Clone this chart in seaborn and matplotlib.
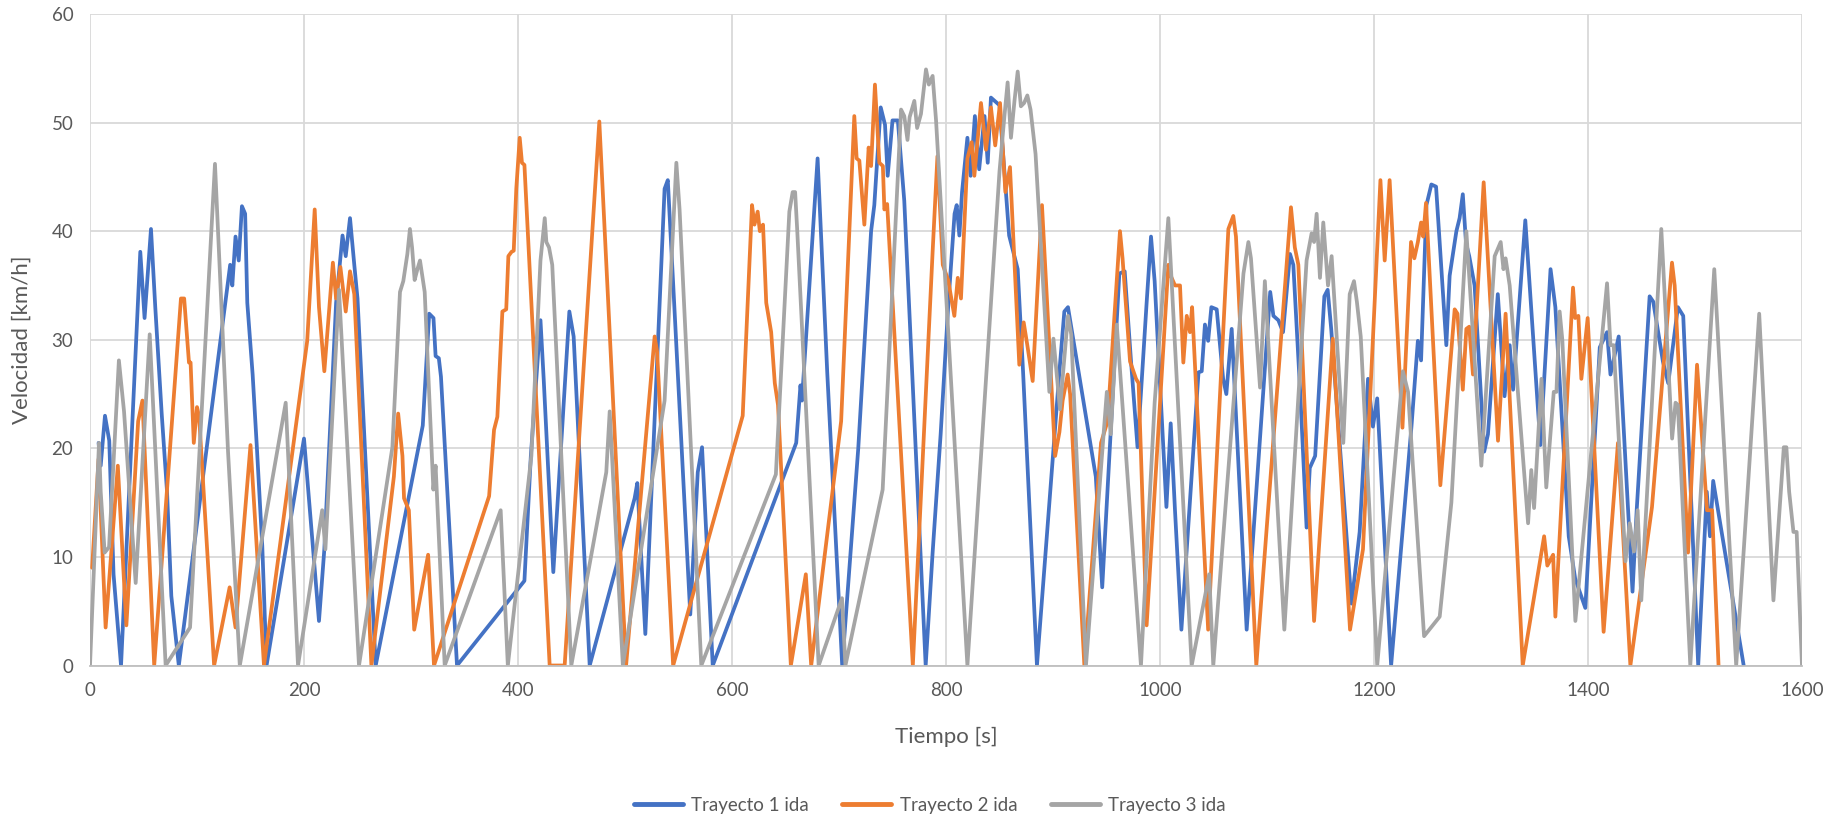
import matplotlib
matplotlib.use("Agg")
import matplotlib.pyplot as plt
from matplotlib.lines import Line2D
import numpy as np
import pandas as pd
import seaborn as sns

# ---------------- data ----------------
t1 = [8, 10, 14, 18, 22, 29, 47, 51, 57, 61, 67, 72, 76, 83, 131, 133, 136, 139, 142, 145, 147, 152, 156, 161, 165,
      200, 214, 219, 230, 236, 239, 243, 247, 250, 267, 311, 317, 321, 323, 326, 328, 343, 406, 412, 421, 424, 433,
      448, 452, 467, 509, 511.5, 519, 537, 540, 561, 568, 572, 582, 660, 664, 665.4, 680, 689, 703, 718, 730, 733,
      735, 739, 743, 745.5, 750, 755, 761, 781, 787.5, 795, 802, 808, 810, 812.5, 815, 820, 823, 827, 831, 836, 839,
      842, 850, 856, 859, 867, 872, 885, 906, 910.6, 914, 940, 946, 962, 967, 973, 979, 987.5, 991.6, 995, 1006,
      1010, 1014, 1020, 1036, 1039, 1042, 1045, 1048, 1053, 1059, 1062, 1067, 1081, 1103, 1106, 1110.6, 1115,
      1121.5, 1124.6, 1131, 1137, 1140, 1145, 1153.6, 1156.7, 1160, 1179, 1186.6, 1194.4, 1199, 1203, 1216, 1235,
      1241, 1244, 1249, 1253.6, 1258, 1267.6, 1270.7, 1277, 1280, 1283, 1286, 1289, 1294, 1303, 1306.5, 1315.7,
      1322, 1326.8, 1330, 1341.4, 1355.5, 1365, 1369.5, 1382, 1388, 1397.5, 1411, 1417.8, 1421, 1428.7, 1441.6,
      1445.5, 1457.6, 1461, 1470, 1475, 1484, 1489, 1503, 1511, 1514, 1517, 1545.5]
v1 = [20.5, 18.4, 23, 20.7, 8.4, 0, 38.1, 32, 40.2, 33, 23.2, 16, 6.4, 0, 36.9, 35, 39.5, 37.3, 42.3, 41.6, 33.4,
      26.8, 20, 11, 0, 20.9, 4.1, 10.7, 33.4, 39.6, 37.7, 41.2, 36.9, 33.8, 0, 22.1, 32.4, 32, 28.5, 28.3, 26.6, 0,
      7.8, 19.3, 31.8, 26.4, 8.6, 32.6, 30.3, 0, 15.4, 16.8, 2.9, 43.9, 44.7, 4.7, 17.8, 20.1, 0, 20.5, 25.8, 24.4,
      46.7, 27, 0, 20, 40, 42.4, 45.5, 51.4, 49.8, 45.1, 50.2, 50.2, 42.8, 0, 10.4, 21.3, 33, 41.6, 42.4, 39.6,
      43.6, 48.6, 45.1, 50.6, 45.7, 50.6, 46.3, 52.3, 51.6, 43.6, 39.6, 36.5, 27.1, 0, 27.1, 32.6, 33, 17.4, 7.2,
      36.1, 36.3, 27.9, 20.1, 33.4, 39.5, 35.4, 14.6, 22.3, 14.3, 3.3, 27, 27.1, 31.4, 29.9, 33, 32.8, 26.4, 25,
      31, 3.3, 34.4, 32.2, 31.8, 30.7, 37.9, 36.9, 25.2, 12.7, 18.2, 19.3, 34, 34.6, 31, 5.7, 12.3, 26.4, 22, 24.6,
      0, 22, 29.9, 28.1, 42.4, 44.3, 44.1, 29.5, 35.9, 40, 41.2, 43.4, 38.9, 37.7, 35, 19.7, 21.3, 34.2, 24.8, 29.5,
      25.4, 41, 20.3, 36.5, 33, 11.9, 8, 5.3, 29.3, 30.7, 26.8, 30.3, 6.8, 14.3, 34, 33.5, 28, 26, 33, 32.2, 0, 16,
      11.9, 17, 0]

t2 = [2, 8, 14.6, 26, 34, 45, 49, 60, 85, 88, 92.5, 94, 97, 100, 102, 116, 130.5, 136, 150, 162.6, 203, 210, 214,
      219, 227, 230, 234, 239, 243, 247, 263, 284, 288, 292, 293.5, 298, 303, 316, 321.5, 373, 377.6, 380.7, 385.4,
      389, 391, 394, 396, 398.4, 401.6, 403.7, 406, 429.6, 443.6, 476, 501, 527.7, 530, 545, 610, 618.7, 621, 624,
      626, 629, 632, 636.6, 640, 643, 655, 669, 674, 702, 714.3, 716.5, 719, 723.7, 727.7, 730, 733.6, 737.7, 741,
      742.4, 745, 769, 787.5, 792, 797, 802, 807.8, 811, 814, 820, 824, 826.5, 832.7, 837.4, 842, 846, 850.5,
      855.5, 859.8, 868.5, 872.6, 876, 881, 889.7, 902, 906, 909, 913.7, 916, 929.3, 944.9, 951, 962.6, 965, 972,
      977.6, 980, 987.5, 1007.8, 1010, 1014, 1018.7, 1021.8, 1025, 1028, 1030, 1045, 1063.9, 1068.5, 1071, 1090,
      1122.4, 1126, 1129.3, 1144, 1161.5, 1177.6, 1189.7, 1206, 1210, 1214.6, 1226.6, 1234.6, 1237.7, 1241, 1244,
      1246, 1248.6, 1262, 1275.4, 1278, 1283, 1286.3, 1289, 1292.5, 1302.5, 1315.9, 1323, 1339, 1359, 1362,
      1367.4, 1369.5, 1386, 1388, 1391, 1393.8, 1399.7, 1414.6, 1428, 1439.6, 1459.8, 1478.5, 1481, 1493.5,
      1501.9, 1511.2, 1516, 1522]
v2 = [9, 19, 3.5, 18.4, 3.7, 22.5, 24.4, 0, 33.8, 33.8, 27.9, 27.9, 20.5, 23.8, 22.9, 0, 7.2, 3.5, 20.3, 0, 29.9,
      42, 33, 27.1, 37.1, 33.8, 36.7, 32.6, 36.3, 34.2, 0, 17.4, 23.2, 19.3, 15.4, 14.3, 3.3, 10.2, 0, 15.6, 21.7,
      22.9, 32.6, 32.8, 37.7, 38.1, 38.2, 43.9, 48.6, 46.3, 46.1, 0, 0, 50.1, 0, 30.3, 28.9, 0, 23, 42.4, 40.6,
      41.8, 40, 40.6, 33.4, 30.7, 26, 24, 0, 8.4, 0, 22.5, 50.6, 46.7, 46.5, 40.6, 47.7, 46, 53.5, 46.3, 46, 42,
      42.5, 0, 38.1, 46.9, 36.9, 35.5, 32.2, 35.7, 33.8, 46.7, 48.2, 45.1, 51.8, 47.5, 51.4, 47.9, 51.8, 43.6,
      45.9, 27.7, 31.6, 29.5, 26.2, 42.4, 19.3, 21.5, 24.4, 26.8, 25, 0, 20.5, 22.5, 40, 37.5, 28, 26.4, 26, 3.7,
      36.9, 35.9, 35, 35, 27.9, 32.2, 30.7, 33, 3.3, 40.2, 41.4, 39.5, 0, 42.2, 38.5, 36.9, 4.1, 30.1, 3.3, 10.7,
      44.7, 37.3, 44.7, 21.9, 39, 37.5, 39, 40.8, 39.5, 42.6, 16.6, 32.8, 32.4, 25.4, 31, 31.2, 26.8, 44.5, 20.7,
      32.4, 0, 11.9, 9.2, 10.2, 4.5, 34.8, 32, 32.2, 26.4, 32, 3.1, 20.5, 0, 14.6, 37.1, 35, 10.4, 27.7, 14.3,
      14.3, 0]

t3 = [0, 8.4, 10, 13.7, 17.8, 27, 31.8, 42.7, 55.8, 70.7, 93.5, 116.8, 129, 140, 182.9, 194.4, 217, 220, 232.7,
      251.4, 282.6, 289.7, 292.8, 296.6, 299, 301, 303.4, 306, 308.4, 312.8, 320.9, 323, 331.5, 383.8, 390.5,
      412.5, 421, 425, 426.5, 429, 432, 449.8, 482.5, 485.7, 498, 537, 548, 551, 571.3, 641, 653.6, 656.7, 659,
      661, 681, 702.8, 706, 740.8, 758, 761, 764, 766, 770.4, 773, 776.6, 781.3, 784, 787.5, 790.7, 820, 850,
      854.6, 857.6, 860.7, 864, 867, 870, 873, 876, 879, 883.7, 896.6, 900.4, 906.5, 914, 917, 930.8, 950.3, 954,
      959.6, 982.2, 995, 1007.8, 1029.6, 1046, 1049.8, 1078, 1082.6, 1085, 1093.5, 1098, 1116.2, 1137, 1141.7,
      1144, 1146.4, 1149.5, 1152.6, 1157, 1160.4, 1171.3, 1177.3, 1181.3, 1184, 1187.6, 1203, 1227, 1231.8,
      1246.8, 1261.4, 1272.3, 1286.3, 1300.3, 1312.8, 1318.4, 1321, 1323, 1326.8, 1344, 1347, 1349.6, 1356.5,
      1361, 1368, 1370.5, 1373.5, 1376, 1388.2, 1417.8, 1421, 1424, 1435, 1439, 1443, 1446.4, 1449.8, 1468.5,
      1478.6, 1481.8, 1484, 1495.6, 1518, 1538.5, 1560, 1573.3, 1583, 1585.4, 1588, 1592, 1595, 1600]
v3 = [0, 20.5, 16, 10.4, 10.9, 28.1, 23.4, 7.6, 30.5, 0, 3.5, 46.2, 19.7, 0, 24.2, 0, 14.3, 10.7, 34.6, 0, 20.1,
      34.4, 35.4, 37.9, 40.2, 38.5, 35.5, 36.5, 37.3, 34.4, 16.2, 18.4, 0, 14.3, 0, 19.3, 37.3, 41.2, 39, 38.5,
      36.9, 0, 17.8, 23.4, 0, 24.4, 46.3, 42, 0, 17.6, 41.8, 43.6, 43.6, 40, 0, 6.2, 0, 16.2, 51.2, 50.6, 48.4,
      50.5, 52, 49.5, 50.8, 54.9, 53.5, 54.3, 50.2, 0, 45.5, 50.6, 53.7, 48.6, 52, 54.7, 51.5, 51.8, 52.5, 51.2,
      47.1, 25.2, 30.1, 23.6, 32.2, 30.5, 0, 25.2, 21.3, 31.4, 0, 24.2, 41.2, 0, 8.4, 0, 36.1, 39, 37.5, 25.6,
      35.4, 3.3, 37.3, 39.8, 39, 41.6, 35.7, 40.8, 35, 37.7, 20.5, 34.2, 35.4, 33.5, 30.3, 0, 27.1, 25.2, 2.7, 4.5,
      15, 40, 18.4, 37.7, 39, 36.5, 37.5, 35, 13.1, 18, 14.5, 26.4, 16.4, 25.2, 25.2, 32.6, 30, 4.1, 35.2, 29.5,
      29.5, 9.6, 13.1, 10.5, 14.3, 6, 40.2, 20.9, 24.2, 24, 0, 36.5, 0, 32.4, 6, 20.1, 20.1, 16, 12.3, 12.3, 0]

series = ["Trayecto 1 ida", "Trayecto 2 ida", "Trayecto 3 ida"]
colors = ["#4472C4", "#ED7D31", "#A5A5A5"]
x_ticks = [0, 200, 400, 600, 800, 1000, 1200, 1400, 1600]
y_ticks = [0, 10, 20, 30, 40, 50, 60]

df = pd.concat([
    pd.DataFrame({"Tiempo": t, "Velocidad": v, "Serie": s})
    for t, v, s in zip([t1, t2, t3], [v1, v2, v3], series)
], ignore_index=True)

# ---------------- style ----------------
sns.set_theme(style="whitegrid")
plt.rcParams['font.family'] = ['Lato', 'DejaVu Sans']
text_color = "#595959"
grid_color = "#D9D9D9"

fig = plt.figure(figsize=(18.34, 8.22), dpi=100)
ax = fig.add_axes([90 / 1834, 1 - 665.5 / 822, 1712 / 1834, 651.5 / 822])

sns.lineplot(data=df, x="Tiempo", y="Velocidad", hue="Serie", hue_order=series,
             palette=colors, sort=False, estimator=None, linewidth=2.7,
             legend=False, ax=ax)

ax.set_xlim(0, 1600)
ax.set_ylim(0, 60)
ax.set_xticks(x_ticks)
ax.set_yticks(y_ticks)
ax.grid(True, color=grid_color, linewidth=1.3)
for side in ["top", "right", "left"]:
    ax.spines[side].set_visible(False)
ax.spines["bottom"].set_color("#BFBFBF")
ax.spines["bottom"].set_linewidth(1.3)
ax.tick_params(axis="both", length=0, labelsize=13.5, colors=text_color)
ax.tick_params(axis="y", pad=12)
ax.tick_params(axis="x", pad=12)

ax.set_xlabel("Tiempo [s]", fontsize=16, color=text_color, va="center")
ax.xaxis.set_label_coords(0.5, -0.11)
ax.set_ylabel("Velocidad [km/h]", fontsize=16, color=text_color, va="center")
ax.yaxis.set_label_coords(-0.04, 0.5)

handles = [Line2D([0], [0], color=c, linewidth=3.5) for c in colors]
fig.legend(handles, series, loc="center", bbox_to_anchor=(0.507, 0.02), ncol=3,
           frameon=False, fontsize=13.5, labelcolor=text_color, handlelength=2.6,
           handletextpad=0.45, columnspacing=1.8)

fig.savefig("out.png", dpi=100, facecolor="white")
